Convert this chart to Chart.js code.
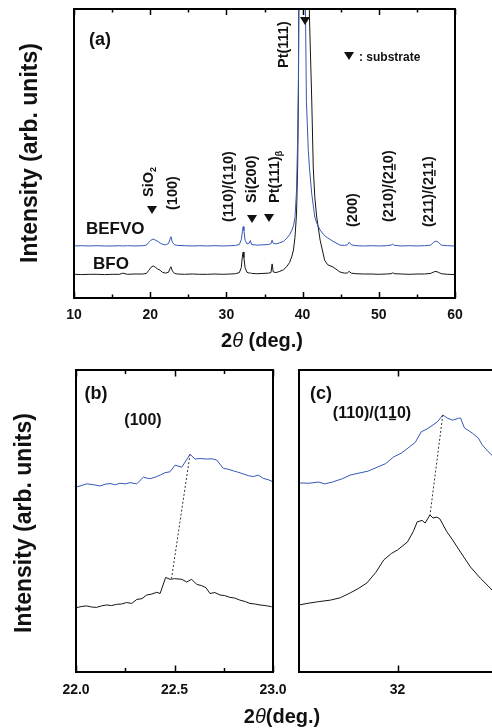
<!DOCTYPE html>
<html>
<head>
<meta charset="utf-8">
<script src="https://cdn.jsdelivr.net/npm/chart.js@4.4.1/dist/chart.umd.min.js"></script>
<style>
  html, body { margin: 0; padding: 0; width: 492px; height: 728px; overflow: hidden; background: #fff; }
  canvas { position: absolute; }
  #chartA { left: 0; top: 0; }
  #chartB { left: 0; top: 355px; }
  #chartC { left: 290px; top: 355px; }
</style>
</head>
<body>
<canvas id="chartA" width="492" height="355"></canvas>
<canvas id="chartB" width="492" height="373"></canvas>
<canvas id="chartC" width="220" height="373"></canvas>
<script>
// (a) full XRD scan, intensity offset in arbitrary units
const aAngles = [10, 11, 12, 13, 14, 15, 16, 16.4, 17, 18,
  19, 19.5, 19.8, 20.1, 20.4, 20.7, 21.0, 21.3, 21.6, 22.0,
  22.4, 22.6, 22.73, 22.9, 23.2, 23.6, 24.5, 25.5, 26.5, 27.5,
  28.5, 29.5, 30.5, 31.2, 31.7, 31.95, 32.1, 32.2, 32.3, 32.45,
  32.7, 33.0, 33.15, 33.3, 34.0, 34.8, 35.5, 35.85, 36.0, 36.15,
  36.5, 37.0, 37.5, 37.9, 38.3, 38.6, 38.8, 39.0, 39.2, 39.35,
  39.45, 39.95, 40.15, 40.38, 40.5, 40.75, 40.9, 41.2, 41.4, 41.6,
  41.85, 42.3, 42.9, 43.3, 44.0, 44.9, 45.5, 45.9, 46.1, 46.4,
  47, 48, 49, 50, 51, 51.6, 51.8, 52.1, 53, 54,
  55, 56, 56.8, 57.2, 57.5, 57.8, 58.2, 59, 60];
const aBfo = [8.2, 8.1, 8.2, 8.2, 8.1, 8.2, 8.2, 8.6, 8.2, 8.3,
  8.3, 8.5, 9.5, 10.6, 11.1, 10.6, 10.0, 9.6, 8.9, 8.6,
  8.9, 10.2, 10.8, 9.4, 8.5, 8.3, 8.2, 8.3, 8.2, 8.2,
  8.3, 8.2, 8.3, 8.4, 8.8, 10.5, 14.5, 15.9, 14.0, 10.5,
  8.9, 8.6, 8.7, 8.5, 8.4, 8.5, 8.6, 8.8, 11.8, 9.0,
  8.8, 9.2, 9.8, 10.8, 12.3, 14.5, 16.6, 21.0, 29.0, 45.0,
  70.0, 330, 400, 260, 190, 130, 97, 68.5, 45, 35,
  28, 20, 13, 11.5, 10.7, 9.0, 8.6, 8.7, 9.2, 8.6,
  8.4, 8.3, 8.3, 8.2, 8.3, 8.4, 8.7, 8.4, 8.3, 8.2,
  8.3, 8.3, 8.5, 9.0, 9.2, 8.9, 8.4, 8.2, 8.1];
const aBefvo = [18.0, 18.1, 18.0, 18.1, 18.0, 18.0, 18.1, 18.0, 18.1, 18.0,
  18.1, 18.3, 19.2, 20.0, 20.4, 20.0, 19.6, 19.0, 18.6, 18.4,
  18.8, 20.3, 21.2, 19.3, 18.4, 18.2, 18.1, 18.0, 18.1, 18.0,
  18.1, 18.0, 18.1, 18.2, 18.5, 20.2, 23.0, 24.7, 23.4, 20.0,
  18.7, 19.0, 19.9, 18.5, 18.3, 18.4, 18.5, 18.8, 20.0, 18.9,
  18.7, 19.1, 19.6, 20.6, 21.9, 23.5, 25.0, 27.8, 37.0, 55.0,
  75.0, 400, 320, 99, 68, 51, 45, 36, 32, 28,
  26, 23.5, 21.5, 20.8, 19.6, 18.3, 18.2, 18.4, 19.3, 18.4,
  18.1, 18.0, 18.1, 18.0, 18.1, 18.3, 18.6, 18.2, 18.0, 18.1,
  18.0, 18.1, 18.3, 19.3, 19.7, 19.3, 18.3, 18.1, 18.0];
const aMajorTicks = [10, 20, 30, 40, 50, 60];
const aMinorTicks = [15, 25, 35, 45, 55];

// (b) (100) close-up
const bBefvoAngles = [22.0, 22.03, 22.054, 22.09, 22.122, 22.15, 22.173, 22.2, 22.223, 22.25,
  22.274, 22.308, 22.342, 22.36, 22.376, 22.41, 22.43, 22.452, 22.477, 22.503,
  22.537, 22.579, 22.604, 22.63, 22.663, 22.69, 22.714, 22.748, 22.77, 22.799,
  22.82, 22.849, 22.875, 22.9, 22.925, 22.951, 22.975, 23.0];
const bBefvo = [61.2, 61.8, 62.3, 62.0, 61.6, 62.2, 62.4, 62.0, 62.5, 62.3,
  62.7, 62.3, 64.5, 64.2, 64.0, 64.7, 65.3, 66.0, 66.3, 68.5,
  67.8, 72.1, 70.5, 70.7, 70.5, 70.6, 70.2, 67.4, 67.2, 66.6,
  66.2, 65.6, 65.0, 64.7, 65.2, 64.1, 63.7, 63.0];
const bBfoAngles = [22.0, 22.03, 22.054, 22.08, 22.105, 22.13, 22.156, 22.18, 22.206, 22.23,
  22.257, 22.283, 22.308, 22.335, 22.359, 22.385, 22.41, 22.427, 22.455, 22.477,
  22.5, 22.537, 22.562, 22.587, 22.613, 22.638, 22.66, 22.68, 22.705, 22.731,
  22.755, 22.782, 22.805, 22.832, 22.86, 22.883, 22.91, 22.934, 22.96, 22.993];
const bBfo = [21.3, 21.7, 21.9, 21.5, 21.4, 21.9, 22.2, 22.0, 22.4, 22.5,
  23.0, 22.7, 24.0, 24.3, 25.5, 25.8, 26.4, 26.0, 31.3, 30.7,
  30.9, 30.7, 29.8, 30.7, 29.0, 28.6, 27.9, 26.0, 26.3, 25.5,
  25.3, 24.7, 24.5, 23.8, 23.3, 22.7, 22.5, 22.2, 22.0, 21.6];
const bGuideAngles = [22.579, 22.485];
const bGuide = [72.1, 31.0];
const bMajorTicks = [22.0, 22.5, 23.0];
const bMinorTicks = [22.25, 22.75];

// (c) (110)/(1-10) close-up
const cBefvoAngles = [31.5, 31.55, 31.6, 31.63, 31.67, 31.72, 31.76, 31.8, 31.85, 31.9,
  31.94, 31.98, 32.02, 32.06, 32.09, 32.12, 32.15, 32.18, 32.205, 32.23,
  32.255, 32.28, 32.31, 32.32, 32.34, 32.38, 32.41, 32.43, 32.46, 32.5];
const cBefvo = [62.6, 62.5, 62.9, 62.3, 62.9, 64.0, 65.2, 65.8, 66.5, 67.9,
  69.0, 71.2, 72.5, 74.5, 76.0, 79.5, 80.5, 81.8, 83.0, 85.1,
  84.0, 83.4, 84.0, 84.1, 80.8, 79.1, 77.5, 75.2, 73.0, 70.5];
const cBfoAngles = [31.5, 31.55, 31.6, 31.66, 31.71, 31.76, 31.8, 31.845, 31.89, 31.93,
  31.97, 32.0, 32.05, 32.08, 32.1, 32.125, 32.14, 32.165, 32.18, 32.2,
  32.215, 32.25, 32.28, 32.32, 32.37, 32.42, 32.46, 32.5];
const cBfo = [22.2, 22.8, 23.3, 23.8, 24.6, 26.2, 27.6, 29.5, 33.0, 37.1,
  39.3, 40.4, 43.0, 46.5, 49.7, 50.2, 49.3, 52.0, 51.0, 51.3,
  50.7, 46.5, 43.7, 39.7, 34.8, 31.1, 28.5, 25.8];
const cGuideAngles = [32.23, 32.165];
const cGuide = [85.1, 52.0];
const cMajorTicks = [32];
const cMinorTicks = [];

const FONT = '"Liberation Sans", Arial, sans-serif';
const BLUE = '#3558b5';
const BLACK = '#151515';
const INK = '#111';

const pts = (xs, ys) => xs.map((x, i) => ({ x: x, y: ys[i] }));

// draws a run of text pieces (sub, underline, italic), optionally rotated to read upwards
function rich(ctx, x, y, segs, size, vertical, align) {
  ctx.save();
  ctx.translate(x, y);
  if (vertical) ctx.rotate(-Math.PI / 2);
  ctx.fillStyle = INK;
  ctx.textAlign = 'left';
  ctx.textBaseline = 'alphabetic';
  const items = segs.map(s => typeof s === 'string' ? { t: s } : s);
  const fontFor = s => (s.italic ? 'italic ' : 'bold ') + (s.sub ? size * 0.62 : size) + 'px ' + FONT;
  let total = 0;
  items.forEach(s => { ctx.font = fontFor(s); total += ctx.measureText(s.t).width; });
  let cx = align === 'center' ? -total / 2 : 0;
  const base = size * 0.36;
  items.forEach(s => {
    ctx.font = fontFor(s);
    const w = ctx.measureText(s.t).width;
    ctx.fillText(s.t, cx, s.sub ? base + size * 0.2 : base);
    if (s.under) ctx.fillRect(cx + w * 0.12, base + 1, w * 0.76, 1.4);
    cx += w;
  });
  ctx.restore();
}

function triangle(ctx, cx, cy) {
  ctx.save();
  ctx.fillStyle = INK;
  ctx.beginPath();
  ctx.moveTo(cx - 5, cy - 4);
  ctx.lineTo(cx + 5, cy - 4);
  ctx.lineTo(cx, cy + 4);
  ctx.closePath();
  ctx.fill();
  ctx.restore();
}

function framePlugin(major, minor, majLen, minLen) {
  return {
    id: 'frame',
    afterDatasetsDraw(chart) {
      const ctx = chart.ctx, a = chart.chartArea, x = chart.scales.x;
      ctx.save();
      ctx.strokeStyle = '#000';
      ctx.lineWidth = 1.5;
      const tick = (v, len) => {
        const px = Math.round(x.getPixelForValue(v)) + 0.5;
        ctx.beginPath();
        ctx.moveTo(px, a.bottom); ctx.lineTo(px, a.bottom - len);
        ctx.moveTo(px, a.top); ctx.lineTo(px, a.top + len);
        ctx.stroke();
      };
      major.forEach(v => tick(v, majLen));
      minor.forEach(v => tick(v, minLen));
      ctx.lineWidth = 2;
      ctx.strokeRect(a.left, a.top, a.right - a.left, a.bottom - a.top);
      ctx.restore();
    }
  };
}

function line(data, color, width, dash) {
  return { data: data, borderColor: color, borderWidth: width, borderDash: dash || [], pointRadius: 0, fill: false };
}

function xrdChart(id, o) {
  return new Chart(document.getElementById(id), {
    type: 'line',
    data: { datasets: o.datasets },
    options: {
      responsive: false,
      animation: false,
      devicePixelRatio: 1,
      layout: { padding: o.padding },
      plugins: { legend: { display: false }, tooltip: { enabled: false } },
      elements: { line: { tension: 0 }, point: { radius: 0 } },
      scales: {
        x: {
          type: 'linear', min: o.min, max: o.max,
          grid: { display: false }, border: { display: false },
          afterBuildTicks: s => { s.ticks = o.major.map(v => ({ value: v })); },
          afterFit: s => { s.height = o.axisHeight; },
          ticks: {
            autoSkip: false, maxRotation: 0, padding: o.tickPad, color: INK,
            font: { family: FONT, size: 14, weight: 'bold' },
            callback: o.fmt
          }
        },
        y: { display: false, min: 0, max: 100 }
      }
    },
    plugins: [framePlugin(o.major, o.minor, o.majLen, o.minLen), { id: 'notes', afterDraw: o.notes }]
  });
}

xrdChart('chartA', {
  datasets: [line(pts(aAngles, aBefvo), BLUE, 1), line(pts(aAngles, aBfo), BLACK, 1)],
  padding: { left: 74, right: 37, top: 9, bottom: 0 },
  axisHeight: 57, tickPad: 1, min: 10, max: 60,
  major: aMajorTicks, minor: aMinorTicks, majLen: 6, minLen: 3.5,
  fmt: v => String(v),
  notes(chart) {
    const ctx = chart.ctx;
    rich(ctx, 29, 153, ['Intensity (arb. units)'], 23, true, 'center');
    rich(ctx, 262, 340, ['2', { t: '\u03B8', italic: true }, ' (deg.)'], 20, false, 'center');
    rich(ctx, 100, 39, ['(a)'], 18, false, 'center');
    rich(ctx, 86, 228, ['BEFVO'], 17, false, 'left');
    rich(ctx, 93, 263, ['BFO'], 17, false, 'left');
    triangle(ctx, 349, 56);
    rich(ctx, 359, 57, [': substrate'], 12, false, 'left');
    rich(ctx, 148, 197, ['SiO', { t: '2', sub: true }], 14.5, true);
    rich(ctx, 172, 210, ['(100)'], 14.5, true);
    rich(ctx, 228, 222, ['(110)/(1', { t: '1', under: true }, '0)'], 14.5, true);
    rich(ctx, 251, 203, ['Si(200)'], 14.5, true);
    rich(ctx, 274, 203, ['Pt(111)', { t: '\u03B2', sub: true }], 14.5, true);
    rich(ctx, 283, 68, ['Pt(111)'], 14.5, true);
    rich(ctx, 352, 227, ['(200)'], 14.5, true);
    rich(ctx, 388, 222, ['(210)/(2', { t: '1', under: true }, '0)'], 14.5, true);
    rich(ctx, 428, 227, ['(211)/(2', { t: '1', under: true }, '1)'], 14.5, true);
    triangle(ctx, 152, 210);
    triangle(ctx, 252, 219);
    triangle(ctx, 269, 218);
    triangle(ctx, 305, 21);
  }
});

xrdChart('chartB', {
  datasets: [
    line(pts(bGuideAngles, bGuide), '#333', 1, [2, 2]),
    line(pts(bBefvoAngles, bBefvo), BLUE, 1),
    line(pts(bBfoAngles, bBfo), BLACK, 1)
  ],
  padding: { left: 76, right: 219, top: 15, bottom: 0 },
  axisHeight: 56, tickPad: 2, min: 22.0, max: 23.0,
  major: bMajorTicks, minor: bMinorTicks, majLen: 6.5, minLen: 4,
  fmt: v => v.toFixed(1),
  notes(chart) {
    const ctx = chart.ctx;
    rich(ctx, 23, 168, ['Intensity (arb. units)'], 23, true, 'center');
    rich(ctx, 282, 361, ['2', { t: '\u03B8', italic: true }, '(deg.)'], 20, false, 'center');
    rich(ctx, 96, 38, ['(b)'], 18, false, 'center');
    rich(ctx, 143, 64, ['(100)'], 16, false, 'center');
  }
});

xrdChart('chartC', {
  datasets: [
    line(pts(cGuideAngles, cGuide), '#333', 1, [2, 2]),
    line(pts(cBefvoAngles, cBefvo), BLUE, 1),
    line(pts(cBfoAngles, cBfo), BLACK, 1)
  ],
  padding: { left: 9, right: 14, top: 15, bottom: 0 },
  axisHeight: 56, tickPad: 2, min: 31.5, max: 32.5,
  major: cMajorTicks, minor: cMinorTicks, majLen: 6.5, minLen: 4,
  fmt: v => String(v),
  notes(chart) {
    const ctx = chart.ctx;
    rich(ctx, 31, 38, ['(c)'], 18, false, 'center');
    rich(ctx, 82, 57, ['(110)/(1', { t: '1', under: true }, '0)'], 16, false, 'center');
  }
});
</script>
</body>
</html>
